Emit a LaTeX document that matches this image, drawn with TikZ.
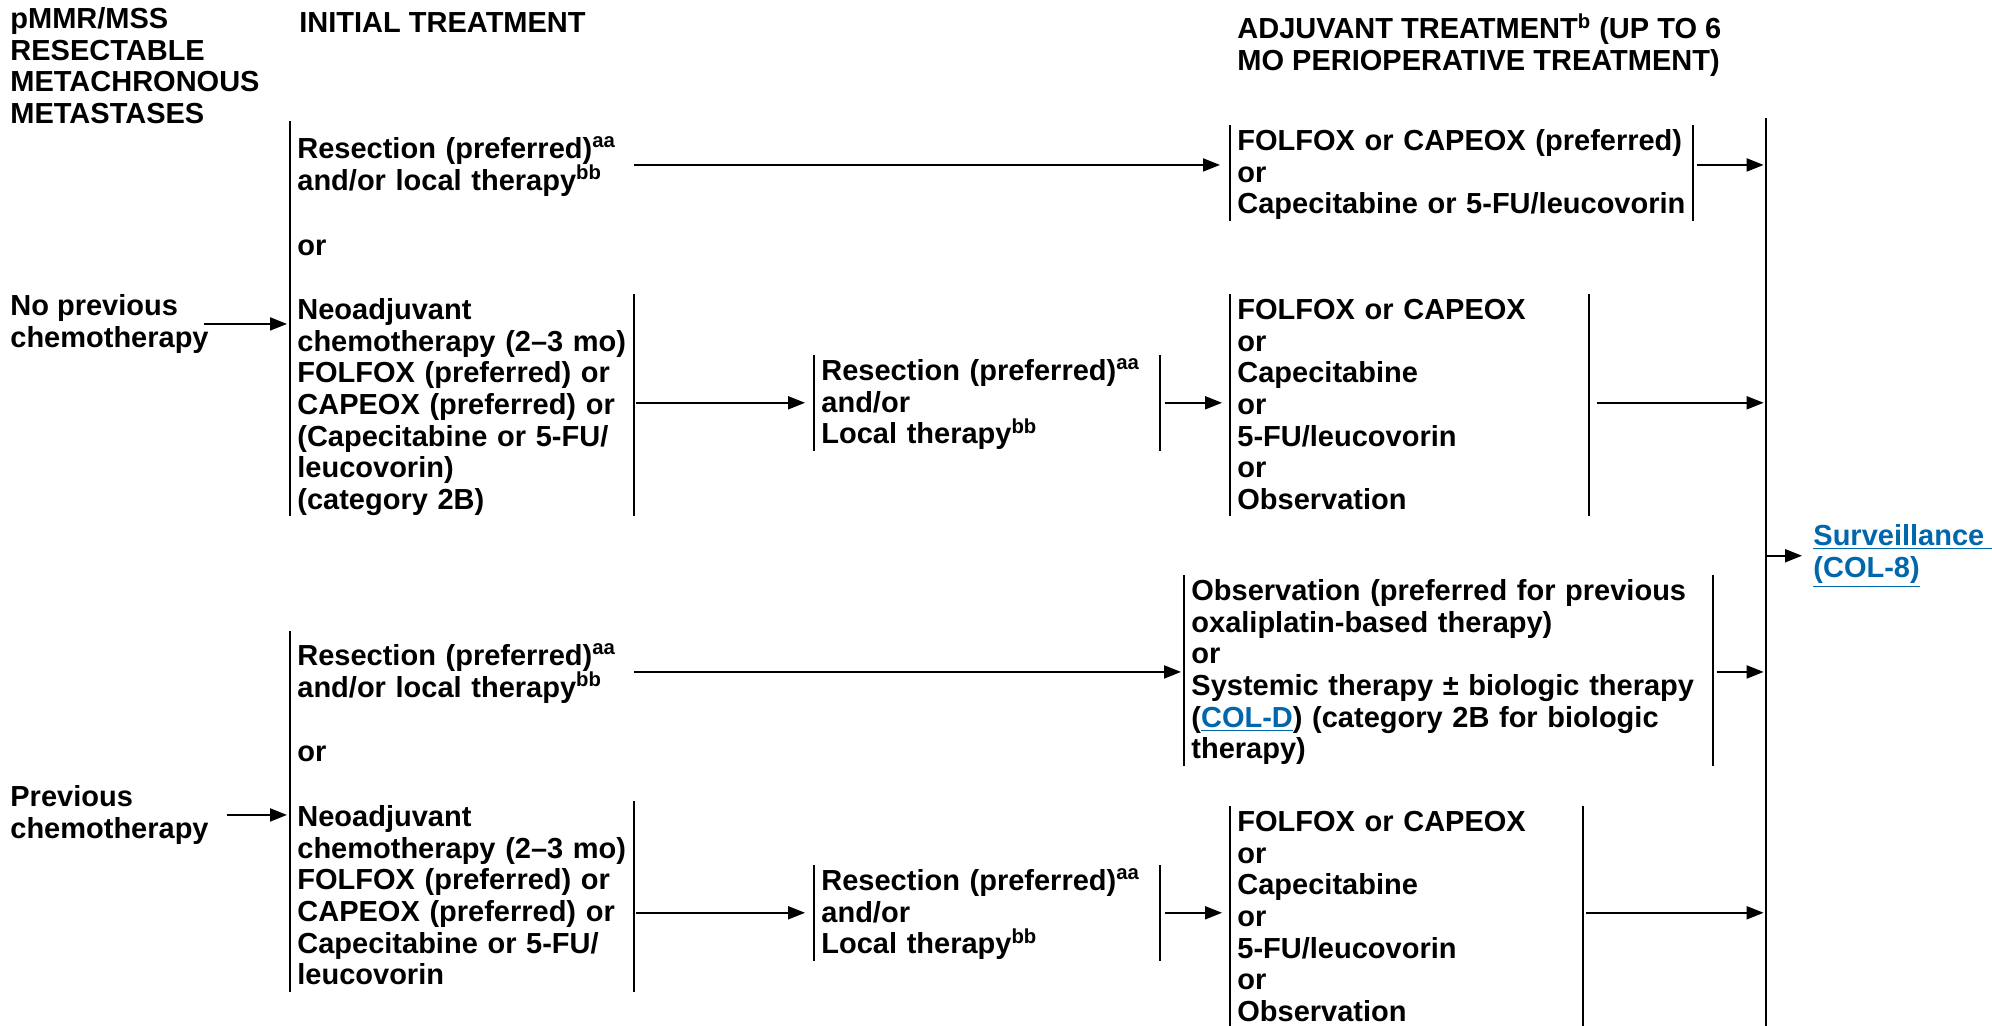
\documentclass[tikz,border=0pt]{standalone}
\usepackage{fontspec}
\setmainfont{Liberation Sans}
\usepackage{xcolor}
\usetikzlibrary{arrows.meta,positioning}
\definecolor{linkblue}{RGB}{0,103,172}
\newcommand{\tstrut}{\rule{0pt}{12.5pt}}
\newcommand{\bstrut}{\rule[-3.2pt]{0pt}{0pt}}
\newcommand{\lnk}[1]{\textcolor{linkblue}{\underline{#1}}}
\setlength{\lineskiplimit}{-20pt}

\begin{document}
\begin{tikzpicture}
  [x=0.5pt,y=-0.5pt,
   every node/.style={font=\fontsize{14.5}{15.85}\selectfont\bfseries,inner xsep=3.5pt,inner ysep=0pt,
     anchor=north west,align=left,execute at begin node=\tstrut,execute at end node=\bstrut},
   col/.style={text width=#1},
   bar/.style={line width=1pt},
   arr/.style={-{Triangle[length=8.5pt,width=6.5pt]},line width=1pt}]
  \useasboundingbox (0,0) rectangle (1992,1026);

  % headings
  \node (hd1) at (3,7) {pMMR/MSS\\RESECTABLE\\METACHRONOUS\\METASTASES};
  \node (hd2) at (292,7) {INITIAL TREATMENT};
  \node (hd3) at (1230,13) {ADJUVANT TREATMENT\textsuperscript{b} (UP TO 6\\MO PERIOPERATIVE TREATMENT)};

  % no previous chemotherapy
  \node (nop) at (3,294) {No previous\\chemotherapy};
  \node[col=164.5pt] (res1) at (290,133) {Resection (preferred)\textsuperscript{aa}\\and/or local therapy\textsuperscript{bb}};
  \node (or1) at (290,230) {or};
  \node[col=164.5pt] (neo1) at (290,294) {Neoadjuvant\\chemotherapy (2–3 mo)\\FOLFOX (preferred) or\\CAPEOX (preferred) or\\(Capecitabine or 5-FU/\\leucovorin)\\(category 2B)};
  \node[col=165.5pt] (res2) at (814,355) {Resection (preferred)\textsuperscript{aa}\\and/or\\Local therapy\textsuperscript{bb}};
  \node[col=224pt] (adj1) at (1230,125) {FOLFOX or CAPEOX (preferred)\\or\\Capecitabine or 5-FU/leucovorin};
  \node[col=172pt] (adj2) at (1230,294) {FOLFOX or CAPEOX\\or\\Capecitabine\\or\\5-FU/leucovorin\\or\\Observation};

  % previous chemotherapy
  \node (prev) at (3,785) {Previous\\chemotherapy};
  \node[col=164.5pt] (res3) at (290,640) {Resection (preferred)\textsuperscript{aa}\\and/or local therapy\textsuperscript{bb}};
  \node (or2) at (290,736) {or};
  \node[col=164.5pt] (neo2) at (290,801) {Neoadjuvant\\chemotherapy (2–3 mo)\\FOLFOX (preferred) or\\CAPEOX (preferred) or\\Capecitabine or 5-FU/\\leucovorin};
  \node[col=165.5pt] (res4) at (814,865) {Resection (preferred)\textsuperscript{aa}\\and/or\\Local therapy\textsuperscript{bb}};
  \node[col=257pt] (obs) at (1184,575) {Observation (preferred for previous\\oxaliplatin-based therapy)\\or\\Systemic therapy ± biologic therapy\\(\lnk{COL-D}) (category 2B for biologic\\therapy)};
  \node[col=169pt] (adj3) at (1230,806) {FOLFOX or CAPEOX\\or\\Capecitabine\\or\\5-FU/leucovorin\\or\\Observation};

  % surveillance
  \coordinate (sv1) at (1766,118);
  \coordinate (sv2) at (1766,1026);
  \node[text=linkblue] (surv) at (1806,524) {\underline{Surveillance~}\\\underline{(COL-8)}};

  % brackets
  \draw[bar] ([yshift=6pt]res1.north west) -- (neo1.south west);
  \draw[bar] ([yshift=4.5pt]res3.north west) -- (neo2.south west);
  \foreach \n in {neo1,res2,adj1,adj2,obs,neo2,res4,adj3}
    \draw[bar] (\n.north west) -- (\n.south west) (\n.north east) -- (\n.south east);
  \draw[line width=1.2pt] (sv1) -- (sv2);

  % arrows
  \draw[arr,shorten >=1.5pt] ([xshift=-6pt]nop.east) -- (nop.east -| neo1.west);
  \draw[arr,shorten >=5pt] (res1.east) -- (res1.east -| adj1.west);
  \draw[arr,shorten <=2pt,shorten >=1.2pt] (res1.east -| adj1.east) -- (res1.east -| sv1);
  \draw[arr,shorten <=1pt,shorten >=4.5pt] (res2.west -| neo1.east) -- (res2.west);
  \draw[arr,shorten <=2.5pt,shorten >=4pt] (res2.east) -- (res2.east -| adj2.west);
  \draw[arr,shorten <=4pt,shorten >=1.2pt] (res2.east -| adj2.east) -- (res2.east -| sv1);
  \draw[arr,shorten >=2pt] (surv.west -| sv1) -- (surv.west);
  \draw[arr,shorten >=1.5pt] ([xshift=5.5pt]prev.east) -- (prev.east -| neo2.west);
  \draw[arr,shorten >=1.5pt] (res3.east) -- (res3.east -| obs.west);
  \draw[arr,shorten <=2pt,shorten >=1.2pt] (res3.east -| obs.east) -- (res3.east -| sv1);
  \draw[arr,shorten <=1pt,shorten >=4.5pt] (res4.west -| neo2.east) -- (res4.west);
  \draw[arr,shorten <=2.5pt,shorten >=4pt] (res4.east) -- (res4.east -| adj3.west);
  \draw[arr,shorten <=1.5pt,shorten >=1.2pt] (res4.east -| adj3.east) -- (res4.east -| sv1);
\end{tikzpicture}
\end{document}
